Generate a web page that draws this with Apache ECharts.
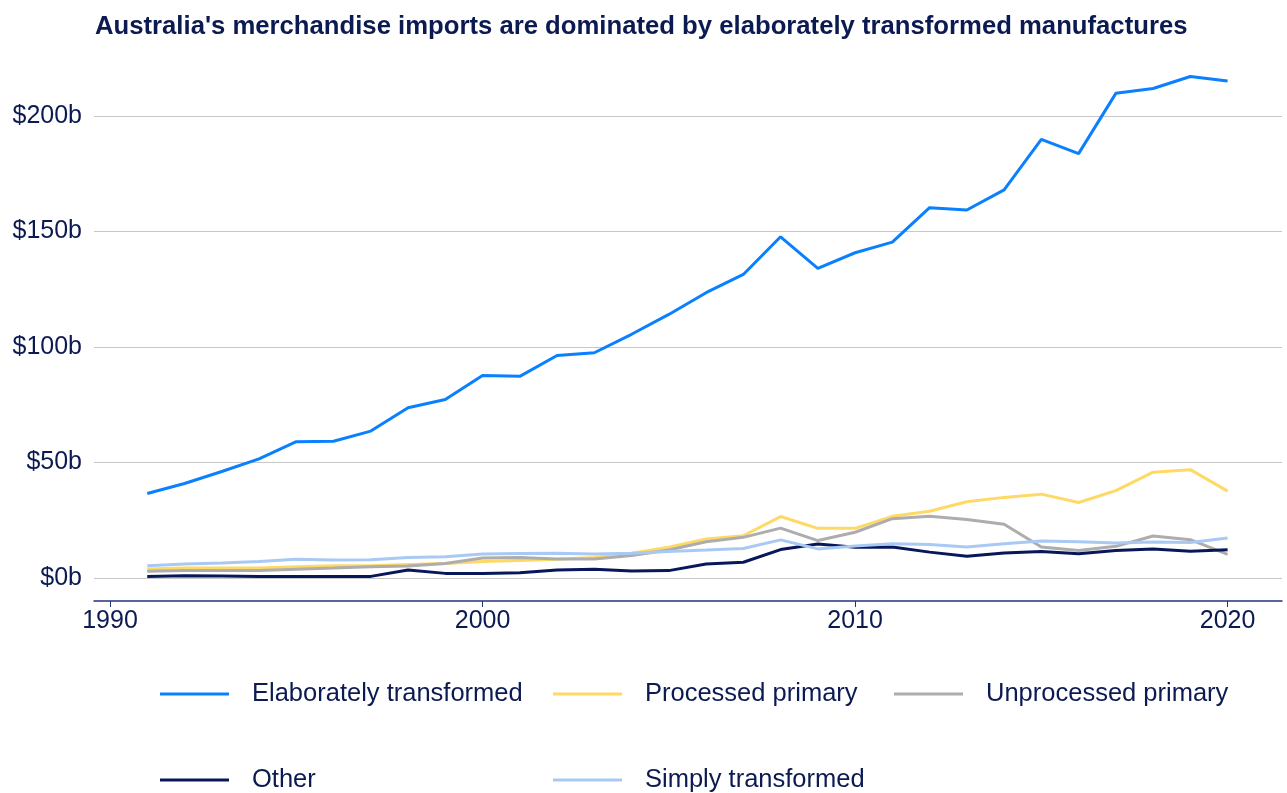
<!DOCTYPE html>
<html>
<head>
<meta charset="utf-8">
<script src="https://cdn.jsdelivr.net/npm/echarts@6/dist/echarts.min.js"></script>
<style>
  html, body { margin: 0; padding: 0; background: #fff; }
  #chart { width: 1287px; height: 793px; }
</style>
</head>
<body>
<div id="chart"></div>
<script>
// values in $ billions
const years = [1991, 1992, 1993, 1994, 1995, 1996, 1997, 1998, 1999, 2000,
  2001, 2002, 2003, 2004, 2005, 2006, 2007, 2008, 2009, 2010,
  2011, 2012, 2013, 2014, 2015, 2016, 2017, 2018, 2019, 2020];
const elaborate = [36.6, 40.9, 46.1, 51.6, 59.0, 59.2, 63.6, 73.7, 77.3, 87.7,
  87.3, 96.3, 97.5, 105.5, 114.1, 123.5, 131.4, 147.7, 134.0, 140.8,
  145.4, 160.3, 159.3, 168.0, 189.9, 183.7, 209.8, 211.9, 217.1, 215.2];
const processed = [3.9, 4.3, 4.3, 4.3, 4.9, 5.3, 5.3, 5.8, 6.3, 7.1,
  7.6, 8.1, 8.9, 10.7, 13.3, 16.9, 18.3, 26.6, 21.5, 21.5,
  26.7, 28.9, 33.0, 34.9, 36.3, 32.7, 37.8, 45.8, 46.9, 37.6];
const unprocessed = [2.9, 3.2, 3.2, 3.2, 3.8, 4.3, 4.9, 5.2, 6.3, 8.7,
  8.9, 8.2, 8.2, 9.7, 12.1, 15.7, 17.6, 21.6, 16.2, 19.8,
  25.7, 26.7, 25.3, 23.3, 13.4, 11.9, 13.7, 18.2, 16.6, 10.2];
const other = [0.7, 1.0, 0.9, 0.7, 0.7, 0.6, 0.7, 3.5, 2.0, 2.0,
  2.3, 3.5, 3.8, 3.0, 3.2, 6.1, 6.8, 12.3, 14.7, 13.3,
  13.4, 11.2, 9.4, 10.8, 11.5, 10.5, 11.9, 12.6, 11.6, 12.2];
const simply = [5.3, 6.1, 6.5, 7.1, 8.1, 7.8, 7.9, 8.9, 9.2, 10.4,
  10.6, 10.7, 10.4, 10.7, 11.5, 12.1, 12.8, 16.5, 12.6, 13.9,
  14.8, 14.5, 13.4, 14.8, 16.0, 15.7, 15.1, 15.6, 15.4, 17.3];
const xTicks = [1990, 2000, 2010, 2020];

const FONT = "'Liberation Sans', Arial, sans-serif";
const NAVY = "#0c1a52";

const chart = echarts.init(document.getElementById("chart"));

const pairs = (vals) => vals.map((v, i) => [years[i], v]);

const mkSeries = (name, vals, color) => ({
  name: name,
  type: "line",
  data: pairs(vals),
  symbol: "none",
  clip: false,
  color: color,
  lineStyle: { width: 3, color: color },
});

// one vertical legend per column so the items line up like the original
const legendBase = {
  orient: "vertical",
  top: 681,
  height: 112,
  padding: 0,
  itemWidth: 69,
  itemHeight: 3,
  itemGap: 60,
  icon: "rect",
  textStyle: {
    fontFamily: FONT,
    fontSize: 25.5,
    color: NAVY,
    lineHeight: 26,
    padding: [0, 0, 0, 18],
  },
};

chart.setOption({
  animation: false,
  title: {
    text: "Australia's merchandise imports are dominated by elaborately transformed manufactures",
    left: 90,
    top: 9,
    textStyle: { fontFamily: FONT, fontSize: 25.7, fontWeight: "bold", color: NAVY },
  },
  grid: { left: 94, right: 5, top: 116, bottom: 215, containLabel: false },
  legend: [
    Object.assign({}, legendBase, { left: 160, data: ["Elaborately transformed", "Other"] }),
    Object.assign({}, legendBase, { left: 553, data: ["Processed primary", "Simply transformed"] }),
    Object.assign({}, legendBase, { left: 894, data: ["Unprocessed primary"] }),
  ],
  xAxis: {
    type: "value",
    min: 1989.57,
    max: 2021.46,
    offset: 23,
    axisLine: { show: true, onZero: false, lineStyle: { color: "#1f3578", width: 1.5 } },
    axisTick: { show: true, length: 6, customValues: xTicks, lineStyle: { color: "#1f3578" } },
    axisLabel: {
      customValues: xTicks,
      margin: 8,
      fontFamily: FONT,
      fontSize: 25,
      color: NAVY,
      formatter: (v) => String(v),
    },
    splitLine: { show: false },
  },
  yAxis: {
    type: "value",
    min: 0,
    max: 200,
    interval: 50,
    axisLine: { show: false },
    axisTick: { show: false },
    axisLabel: {
      margin: 12,
      fontFamily: FONT,
      fontSize: 25,
      color: NAVY,
      formatter: (v) => "$" + v + "b",
    },
    splitLine: { lineStyle: { color: "#c8c8c8", width: 1 } },
  },
  series: [
    mkSeries("Elaborately transformed", elaborate, "#0a80ff"),
    mkSeries("Processed primary", processed, "#ffd966"),
    mkSeries("Unprocessed primary", unprocessed, "#adadad"),
    mkSeries("Other", other, "#08175a"),
    mkSeries("Simply transformed", simply, "#a9c9f5"),
  ],
});
</script>
</body>
</html>
